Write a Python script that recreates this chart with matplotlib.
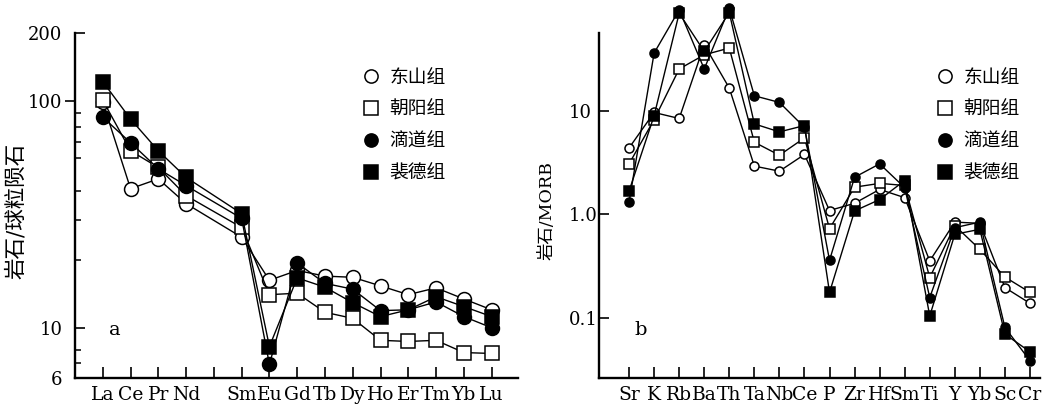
import numpy as np
import matplotlib
matplotlib.use("Agg")
import matplotlib.pyplot as plt
import matplotlib.lines as mlines
from matplotlib.ticker import FixedLocator, NullFormatter

# ---------------------------------------------------------------------------
# data
# (a) chondrite normalised REE, Pm has no value
ree = ["La", "Ce", "Pr", "Nd", "", "Sm", "Eu", "Gd", "Tb", "Dy", "Ho", "Er", "Tm", "Yb", "Lu"]
ree_dongshan = [99, 41.1, 45.4, 35.3, np.nan, 25.1, 16.2, 17.9, 16.9, 16.7, 15.3, 14.0, 15.0, 13.4, 12.0]
ree_chaoyang = [101, 60.4, 51, 38.3, np.nan, 27.7, 14.0, 14.2, 11.7, 11.0, 8.8, 8.7, 8.8, 7.77, 7.7]
ree_didao = [85, 65.6, 50.3, 42.4, np.nan, 30.4, 6.89, 19.3, 15.7, 14.8, 11.9, 12.0, 13.0, 11.2, 10.0]
ree_peide = [122, 83.4, 60.4, 46.1, np.nan, 31.9, 8.26, 16.6, 15.1, 12.9, 11.2, 12.0, 13.7, 12.4, 11.2]

# (b) MORB normalised trace elements
trace = ["Sr", "K", "Rb", "Ba", "Th", "Ta", "Nb", "Ce", "P", "Zr", "Hf", "Sm", "Ti", "Y", "Yb", "Sc", "Cr"]
tr_dongshan = [4.37, 9.6, 8.4, 43.1, 16.5, 2.92, 2.61, 3.78, 1.09, 1.28, 1.74, 1.45, 0.356, 0.843, 0.82, 0.197, 0.139]
tr_chaoyang = [3.07, 8.2, 25.2, 34.5, 40.1, 4.96, 3.72, 5.46, 0.728, 1.83, 1.99, 1.9, 0.246, 0.78, 0.46, 0.249, 0.177]
tr_didao = [1.32, 35.9, 93.6, 25.2, 97, 13.9, 12.0, 6.9, 0.361, 2.28, 3.07, 1.81, 0.158, 0.745, 0.843, 0.0813, 0.0389]
tr_peide = [1.68, 8.95, 86.9, 37.2, 88.2, 7.45, 6.24, 7.18, 0.177, 1.08, 1.39, 2.12, 0.105, 0.643, 0.718, 0.0702, 0.0474]

groups = ["东山组", "朝阳组", "滴道组", "裴德组"]
# marker, face colour for each group
styles = [("o", "white"), ("s", "white"), ("o", "black"), ("s", "black")]

serif = "DejaVu Serif"
cjk = [serif, "Noto Sans CJK SC"]

# ---------------------------------------------------------------------------
W, H = 1051, 412
fig = plt.figure(figsize=(W / 100, H / 100), dpi=100)


def px_axes(x0, x1, y_top, y_bot):
    # axes rect from pixel edges
    return fig.add_axes([x0 / W, (H - y_bot) / H, (x1 - x0) / W, (y_bot - y_top) / H])


def style_axes(ax):
    for s in ["top", "right"]:
        ax.spines[s].set_visible(False)
    for s in ["left", "bottom"]:
        ax.spines[s].set_linewidth(1.7)
    ax.tick_params(axis="x", direction="in", length=8, width=1.2, pad=6, labelsize=13.5)
    ax.tick_params(axis="y", which="major", direction="in", length=7, width=1.2, labelsize=13)
    ax.tick_params(axis="y", which="minor", direction="in", length=4, width=1.1)
    for lab in ax.get_xticklabels() + ax.get_yticklabels():
        lab.set_fontfamily(serif)


def draw_series(ax, x, series, ms, clip=True):
    for vals, (mk, fc) in zip(series, styles):
        v = np.array(vals, dtype=float)
        ok = ~np.isnan(v)
        ax.plot(x[ok], v[ok], color="black", lw=1.0, marker=mk, ms=ms,
                mfc=fc, mec="black", mew=1.1, clip_on=clip)


def add_legend(ax, x_left, y_top):
    handles = [mlines.Line2D([], [], ls="none", marker=mk, ms=9.5, mfc=fc,
                             mec="black", mew=1.1) for mk, fc in styles]
    ax.legend(handles, groups, loc="upper left", frameon=False,
              bbox_to_anchor=(x_left / W, 1 - y_top / H), bbox_transform=fig.transFigure,
              borderpad=0, borderaxespad=0, handlelength=1.0, handletextpad=0.45,
              labelspacing=0.58, prop={"family": "Noto Sans CJK SC", "size": 13.5})


# ---------------------------------------------------------------------------
# (a) REE
ax1 = px_axes(75, 518, 33, 378)
x1 = np.arange(len(ree))
draw_series(ax1, x1, [ree_dongshan, ree_chaoyang, ree_didao, ree_peide], ms=10)
ax1.set_yscale("log")
ax1.set_ylim(6, 200)
ax1.set_xlim(-1, 14.95)
ax1.set_xticks(x1)
ax1.set_xticklabels(ree)
ax1.yaxis.set_major_locator(FixedLocator([6, 10, 100, 200]))
ax1.set_yticklabels(["6", "10", "100", "200"])
ax1.yaxis.set_minor_locator(FixedLocator([7, 8, 20, 30, 40, 56, 66, 77, 89]))
ax1.yaxis.set_minor_formatter(NullFormatter())
style_axes(ax1)
ax1.tick_params(axis="y", which="major", pad=9)
ax1.set_ylabel("岩石/球粒陨石", family=cjk, fontsize=15.5)
ax1.yaxis.set_label_coords(-(75 - 27) / 443, (378 - 211) / 345)
ax1.text(0.09, 0.139, "a", transform=ax1.transAxes, family=serif, fontsize=14,
         ha="center", va="center")
add_legend(ax1, 362, 67)

# tick at 100 sticks out of the axis in the original
for t in ax1.yaxis.get_major_ticks():
    if t.get_loc() == 100:
        t.tick1line.set_marker(mlines.TICKLEFT)

# ---------------------------------------------------------------------------
# (b) spider diagram
ax2 = px_axes(599, 1040, 33, 378)
x2 = np.arange(len(trace))
draw_series(ax2, x2, [tr_dongshan, tr_chaoyang, tr_didao, tr_peide], ms=6.5, clip=False)
ax2.set_yscale("log")
ax2.set_ylim(0.0265, 56)
ax2.set_xlim(-1.2, 16.4)
ax2.set_xticks(x2)
ax2.set_xticklabels(trace)
ax2.yaxis.set_major_locator(FixedLocator([0.1, 1.0, 10]))
ax2.set_yticklabels(["0.1", "1.0", "10"])
ax2.yaxis.set_minor_locator(FixedLocator([]))
style_axes(ax2)
ax2.tick_params(axis="y", which="major", pad=22)
for lab in ax2.get_yticklabels():
    lab.set_horizontalalignment("left")
ax2.set_ylabel("岩石/MORB", family=cjk, fontsize=12.5)
ax2.yaxis.set_label_coords(-(599 - 555) / 441, (378 - 211) / 345)
ax2.text(0.095, 0.139, "b", transform=ax2.transAxes, family=serif, fontsize=14,
         ha="center", va="center")
add_legend(ax2, 936, 67)

fig.savefig("out.png", dpi=100)
